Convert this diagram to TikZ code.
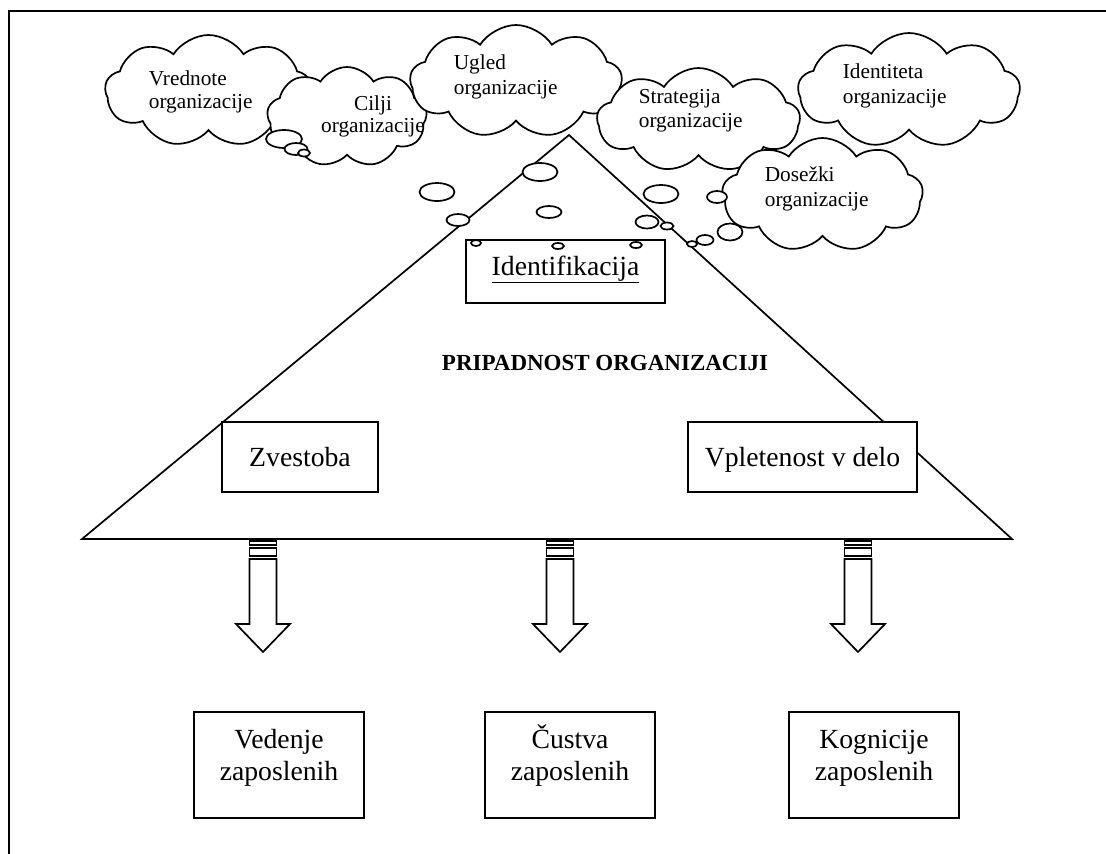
\documentclass[tikz,border=0pt]{standalone}
\usepackage{fontspec}
\setmainfont{Liberation Serif}
\usetikzlibrary{shapes.symbols,shapes.geometric}
\begin{document}
\begin{tikzpicture}[x=1pt,y=-1pt,line width=1.7pt,
  cloudsty/.style={cloud,cloud puffs=9,cloud puff arc=115,cloud ignores aspect,draw,fill=white,inner sep=0pt},
  ctext/.style={inner sep=0pt,anchor=base west,font=\fontsize{21.3}{24}\selectfont},
  ctextc/.style={inner sep=0pt,anchor=base,font=\fontsize{21.3}{24}\selectfont},
  btext/.style={inner sep=0pt,anchor=base,font=\fontsize{27.7}{32}\selectfont},
  boxsty/.style={draw,fill=white,inner sep=0pt},
  bub/.style={ellipse,draw,fill=white,inner sep=0pt},
  blockarrow/.pic={
    \draw (-13.5,2) rectangle (13.5,6);
    \draw (-13.5,9) rectangle (13.5,17);
    \draw[line join=miter] (-13.5,20) -- (-13.5,85) -- (-27,85) -- (0,113) -- (27,85) -- (13.5,85) -- (13.5,20) -- cycle;
  }]
\useasboundingbox (0,0) rectangle (1106,854);
% frame
\draw (9,854) -- (9,11) -- (1106,11);
% clouds
\node[cloudsty,minimum width=207pt,minimum height=112pt] (cv) at (208.5,91) {};
\node[cloudsty,minimum width=160pt,minimum height=100pt] (cc) at (347,117) {};
\node[cloudsty,minimum width=212pt,minimum height=113pt] (cu) at (516,81.5) {};
\node[cloudsty,minimum width=203pt,minimum height=104pt] (cs) at (698.5,120) {};
\node[cloudsty,minimum width=222pt,minimum height=115pt] (ci) at (909,90.5) {};
\node[cloudsty,minimum width=201pt,minimum height=114pt] (cd) at (822.5,195) {};
% cloud texts
\node[ctext] (tv1) at (148,85) {Vrednote};
\node[ctext] (tv2) at (148,108) {organizacije};
\node[ctextc] (tc1) at (373,110) {Cilji};
\node[ctextc] (tc2) at (373,132) {organizacije};
\node[ctext] (tu1) at (453,69.3) {Ugled};
\node[ctext] (tu2) at (453,94) {organizacije};
\node[ctext] (ts1) at (638,103.3) {Strategija};
\node[ctext] (ts2) at (638,127.3) {organizacije};
\node[ctext] (ti1) at (842,78.3) {Identiteta};
\node[ctext] (ti2) at (842,103.3) {organizacije};
\node[ctext] (td1) at (764,181.7) {Dosežki};
\node[ctext] (td2) at (764,206.7) {organizacije};
% triangle
\draw[line join=miter] (82,539) -- (569,135) -- (1012,539) -- cycle;
% thought bubbles
\node[bub,minimum width=36pt,minimum height=18pt] (e1) at (284,139) {};
\node[bub,minimum width=23pt,minimum height=12pt] (e2) at (296,149) {};
\node[bub,minimum width=12pt,minimum height=7pt] (e3) at (304,153) {};
\node[bub,minimum width=35pt,minimum height=18pt] (e4) at (437,192) {};
\node[bub,minimum width=35pt,minimum height=18pt] (e5) at (540,172) {};
\node[bub,minimum width=23pt,minimum height=12pt] (e6) at (458,220) {};
\node[bub,minimum width=25pt,minimum height=12pt] (e7) at (549,212) {};
\node[bub,minimum width=35pt,minimum height=18pt] (e8) at (661,194) {};
\node[bub,minimum width=23pt,minimum height=13pt] (e9) at (647,222) {};
\node[bub,minimum width=13pt,minimum height=7pt] (e10) at (667,226) {};
\node[bub,minimum width=10pt,minimum height=6pt] (e11) at (692,244) {};
\node[bub,minimum width=20pt,minimum height=12pt] (e12) at (717,197) {};
\node[bub,minimum width=25pt,minimum height=17pt] (e13) at (730,232) {};
\node[bub,minimum width=17pt,minimum height=10pt] (e14) at (705,240) {};
% Identifikacija
\node[boxsty,minimum width=199pt,minimum height=63pt] (idb) at (565.5,271.5) {};
\node[btext] (idt) at (565.5,275) {\underline{Identifikacija}};
\node[bub,minimum width=10pt,minimum height=6pt] (e15) at (476,243) {};
\node[bub,minimum width=12pt,minimum height=6pt] (e16) at (558,246) {};
\node[bub,minimum width=12pt,minimum height=6pt] (e17) at (636,245) {};
% title
\node[inner sep=0pt,anchor=base,font=\fontsize{23}{26}\selectfont\bfseries] (title) at (605,370) {PRIPADNOST ORGANIZACIJI};
% inner boxes
\node[boxsty,minimum width=156pt,minimum height=70pt] (zb) at (300,457) {};
\node[btext] (zt) at (300,466) {Zvestoba};
\node[boxsty,minimum width=229pt,minimum height=70pt] (vb) at (802.5,457) {};
\node[btext] (vt) at (802.5,466) {Vpletenost v delo};
% arrows
\pic (a1) at (263,539) {blockarrow};
\pic (a2) at (560,539) {blockarrow};
\pic (a3) at (858,539) {blockarrow};
% bottom boxes
\node[boxsty,minimum width=170pt,minimum height=106pt] (bb1) at (279,765) {};
\node[btext] (bt1a) at (279,748) {Vedenje};
\node[btext] (bt1b) at (279,780) {zaposlenih};
\node[boxsty,minimum width=170pt,minimum height=106pt] (bb2) at (570,765) {};
\node[btext] (bt2a) at (570,748) {Čustva};
\node[btext] (bt2b) at (570,780) {zaposlenih};
\node[boxsty,minimum width=170pt,minimum height=106pt] (bb3) at (874,765) {};
\node[btext] (bt3a) at (874,748) {Kognicije};
\node[btext] (bt3b) at (874,780) {zaposlenih};
\end{tikzpicture}
\end{document}
